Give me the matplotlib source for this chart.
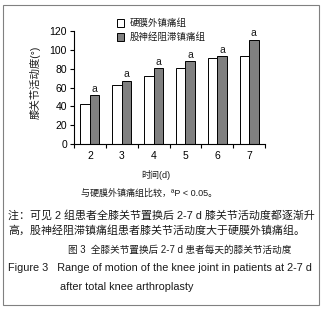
import matplotlib
matplotlib.use('Agg')
import matplotlib.pyplot as plt
from matplotlib.patches import Rectangle

plt.rcParams['font.family'] = ['Liberation Sans', 'Noto Sans CJK SC']
plt.rcParams['text.color'] = '#1a1a1a'

days = ['2', '3', '4', '5', '6', '7']
epidural = [42.5, 62.8, 72.4, 80.6, 91.2, 93.4]
nerve_block = [51.8, 67.0, 80.6, 88.0, 93.4, 110.8]
sig = ['a', 'a', 'a', 'a', 'a', 'a']
legend_names = ['硬膜外镇痛组', '股神经阻滞镇痛组']

W, H = 323, 312
fig = plt.figure(figsize=(W / 100, H / 100), dpi=100)

# frame around the whole figure
fig.patches.append(Rectangle((3 / W, 1 - 305 / H), 316 / W, 300 / H, transform=fig.transFigure,
                             fill=False, edgecolor='#808080', linewidth=0.8))

ax = fig.add_axes([74 / W, 1 - 144 / H, 191 / W, 113 / H])
x = range(len(days))
bw = 0.3
ax.bar([i - bw / 2 for i in x], epidural, bw, color='white', edgecolor='black', linewidth=0.7)
ax.bar([i + bw / 2 for i in x], nerve_block, bw, color='#808080', edgecolor='black', linewidth=0.7)
for i, v in enumerate(nerve_block):
    ax.text(i + bw / 2, v + 1.5, sig[i], ha='center', va='bottom', fontsize=7.5)

ax.set_xlim(-0.5, len(days) - 0.5)
ax.set_ylim(0, 120)
ax.set_yticks(range(0, 121, 20))
ax.set_xticks([i + 0.5 for i in range(-1, len(days))])
ax.set_xticklabels([])
ax.set_xticks(list(x), minor=True)
ax.set_xticklabels(days, minor=True)
ax.tick_params(axis='x', which='minor', length=0, labelsize=7.5, pad=5)
ax.tick_params(axis='x', which='major', length=3, direction='out')
ax.tick_params(axis='y', labelsize=7.5, length=3, pad=2)
ax.spines['top'].set_visible(False)
ax.spines['right'].set_visible(False)
for s in ['left', 'bottom']:
    ax.spines[s].set_linewidth(0.8)

# y label placed in figure pixels
fig.text(35 / W, 1 - 82 / H, '膝关节活动度(°)', fontsize=7.5, rotation=90, ha='center', va='center')

# legend drawn by hand
for k, (name, col) in enumerate(zip(legend_names, ['white', '#808080'])):
    yy = 1 - (23 + 14 * k) / H
    fig.patches.append(Rectangle((117 / W, yy - 3.5 / H), 7 / W, 7 / H, transform=fig.transFigure,
                                 facecolor=col, edgecolor='black', linewidth=0.7))
    fig.text(130 / W, yy, name, fontsize=6.8, va='center', ha='left')

fig.text(156 / W, 1 - 175 / H, '时间(d)', fontsize=6.5, ha='center', va='center')
fig.text(149 / W, 1 - 193 / H, '与硬膜外镇痛组比较，ªP < 0.05。', fontsize=6.5, ha='center', va='center')
fig.text(8 / W, 1 - 215 / H, '注：可见 2 组患者全膝关节置换后 2-7 d 膝关节活动度都逐渐升',
         fontsize=7.9, ha='left', va='center')
fig.text(8 / W, 1 - 230 / H, '高，股神经阻滞镇痛组患者膝关节活动度大于硬膜外镇痛组。',
         fontsize=7.9, ha='left', va='center')
fig.text(68 / W, 1 - 250 / H, '图 3  全膝关节置换后 2-7 d 患者每天的膝关节活动度',
         fontsize=6.9, ha='left', va='center')
fig.text(8 / W, 1 - 268 / H, 'Figure 3   Range of motion of the knee joint in patients at 2-7 d',
         fontsize=7.8, ha='left', va='center')
fig.text(60 / W, 1 - 287 / H, 'after total knee arthroplasty', fontsize=7.8, ha='left', va='center')

fig.savefig('out.png', dpi=100)
